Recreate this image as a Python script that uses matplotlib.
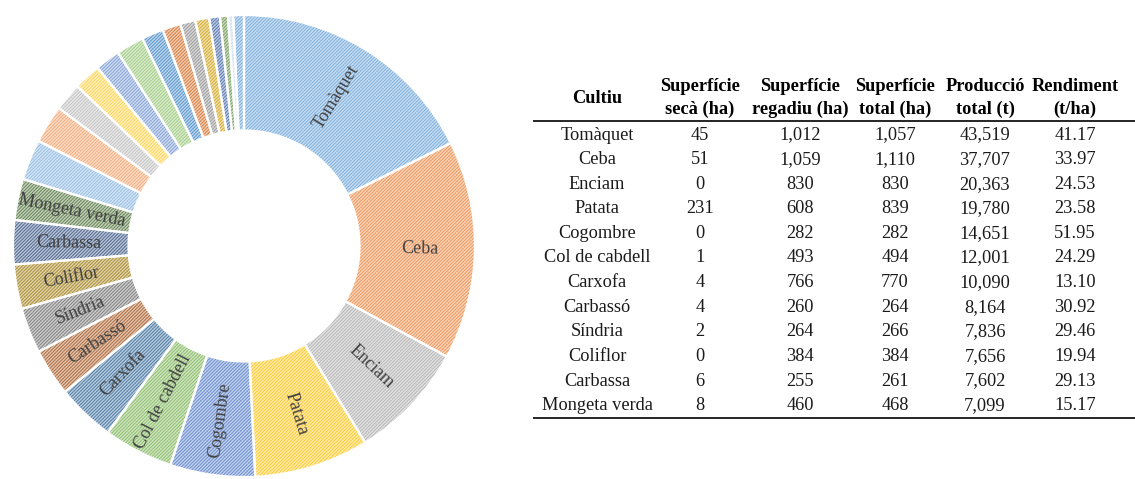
import matplotlib
matplotlib.use("Agg")
import matplotlib.pyplot as plt
import matplotlib.colors as mcolors
import numpy as np

# dades de la taula
cultius = ["Tomàquet", "Ceba", "Enciam", "Patata", "Cogombre", "Col de cabdell",
           "Carxofa", "Carbassó", "Síndria", "Coliflor", "Carbassa", "Mongeta verda"]
sup_seca = [45, 51, 0, 231, 0, 1, 4, 4, 2, 0, 6, 8]
sup_regadiu = [1012, 1059, 830, 608, 282, 493, 766, 260, 264, 384, 255, 460]
sup_total = [1057, 1110, 830, 839, 282, 494, 770, 264, 266, 384, 261, 468]
produccio = [43519, 37707, 20363, 19780, 14651, 12001, 10090, 8164, 7836, 7656, 7602, 7099]
rendiment = [41.17, 33.97, 24.53, 23.58, 51.95, 24.29, 13.10, 30.92, 29.46, 19.94, 29.13, 15.17]

# resta de cultius (sense etiqueta), llegits del grafic
altres_produccio = [7000, 6580, 4860, 4660, 4320, 4800, 3770, 3150, 2600, 2400, 1850, 1370, 890, 1850]

colors = ["#5B9BD5", "#ED7D31", "#A5A5A5", "#FFC000", "#4472C4", "#70AD47",
          "#255E91", "#9E480E", "#636363", "#997300", "#264478", "#43682B",
          "#7CAFDD", "#F1975A", "#B7B7B7", "#FFCD33", "#698ED0", "#8CC168",
          "#327DC2", "#D26012", "#848484", "#CC9A00", "#335AA1", "#5A8A39",
          "#BDD7EE", "#5B9BD5"]


def tint(c, f=0.18):
    r = np.array(mcolors.to_rgb(c))
    return tuple(r + (1 - r) * f)


serif = ["Liberation Serif", "DejaVu Serif"]
plt.rcParams["hatch.linewidth"] = 1.0

W, H = 1135, 479
fig = plt.figure(figsize=(W / 100, H / 100), dpi=100)

# donut
cx, cy, R = 244, 246, 231
ax = fig.add_axes([(cx - R) / W, (H - cy - R) / H, 2 * R / W, 2 * R / H])
valors = produccio + altres_produccio
wedges, _ = ax.pie(valors, colors=[tint(c) for c in colors[:len(valors)]],
                   startangle=90, counterclock=False, radius=1.0,
                   wedgeprops=dict(width=0.5, edgecolor=(1, 1, 1, 0.62), linewidth=0,
                                   hatch="/" * 10))
# linies blanques entre sectors
ax.pie(valors, colors=["none"] * len(valors), startangle=90, counterclock=False, radius=1.0,
       wedgeprops=dict(width=0.5, edgecolor="white", linewidth=1.6))
ax.set_xlim(-1, 1)
ax.set_ylim(-1, 1)
ax.set_aspect("equal")
ax.axis("off")

for w, nom in zip(wedges[:len(cultius)], cultius):
    ang = (w.theta1 + w.theta2) / 2.0
    x = 0.76 * np.cos(np.radians(ang))
    y = 0.76 * np.sin(np.radians(ang))
    rot = ang % 360
    if 90 < rot < 270:
        rot -= 180
    elif rot >= 270:
        rot -= 360
    ax.text(x, y, nom, rotation=rot, rotation_mode="anchor", ha="center", va="center",
            fontsize=13, color="#404040", family=serif)

# taula
tx = fig.add_axes([530 / W, 0, (W - 530) / W, 1])
tx.set_xlim(530, W)
tx.set_ylim(H, 0)
tx.axis("off")

col_x = [597, 700, 800, 895, 985, 1075]
cap1 = ["Superfície", "Superfície", "Superfície", "Producció", "Rendiment"]
cap2 = ["secà (ha)", "regadiu (ha)", "total (ha)", "total (t)", "(t/ha)"]
fs = 13.2

tx.text(col_x[0], 98, "Cultiu", ha="center", va="center", fontsize=fs,
        fontweight="bold", family=serif)
for x, a, b in zip(col_x[1:], cap1, cap2):
    tx.text(x, 86, a, ha="center", va="center", fontsize=fs, fontweight="bold", family=serif)
    tx.text(x, 109, b, ha="center", va="center", fontsize=fs, fontweight="bold", family=serif)

tx.plot([533, W], [121, 121], color="black", lw=1.2, solid_capstyle="butt")

y0, dy = 135, 24.6
for i, nom in enumerate(cultius):
    y = y0 + i * dy
    fila = [nom, f"{sup_seca[i]:,}", f"{sup_regadiu[i]:,}", f"{sup_total[i]:,}",
            f"{produccio[i]:,}", f"{rendiment[i]:.2f}"]
    for x, s in zip(col_x, fila):
        tx.text(x, y, s, ha="center", va="center", fontsize=fs, color="#1a1a1a", family=serif)

tx.plot([533, W], [y0 + 11 * dy + 12, y0 + 11 * dy + 12], color="black", lw=1.2,
        solid_capstyle="butt")

fig.savefig("out.png", dpi=100)
